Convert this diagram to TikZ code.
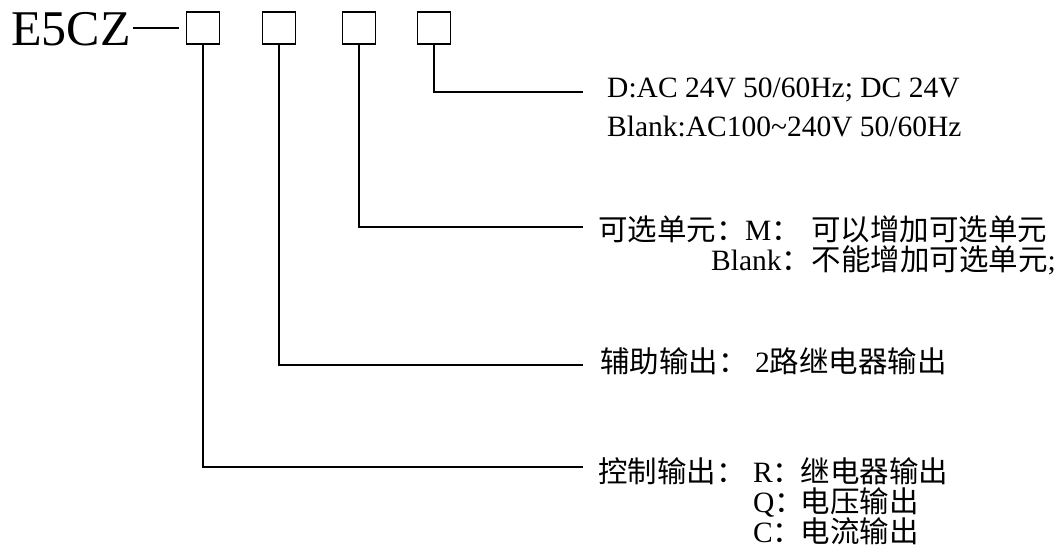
\documentclass[tikz,border=0pt]{standalone}
\usepackage{fontspec}
\setmainfont{Liberation Serif}
\newfontfamily\cjk{Noto Sans CJK SC}
\newfontfamily\cjkhalf{Noto Sans CJK SC}[RawFeature=+halt]
\newcommand{\zh}[1]{{\cjk\fontsize{29.5}{30}\selectfont #1}}
\newlength{\colgap}
\newcommand{\cc}[1]{{\cjkhalf\fontsize{29.5}{30}\selectfont ：}\setlength{\colgap}{#1pt}\addtolength{\colgap}{-14.75pt}\hspace{\colgap}}
\begin{document}
\begin{tikzpicture}[x=1pt,y=-1pt,
  codebox/.style={draw, line width=1.8pt, minimum width=33pt, minimum height=32pt, inner sep=0pt, outer sep=0pt},
  conn/.style={line width=2pt},
  lbl/.style={anchor=base west, inner sep=0pt, font=\fontsize{29.5}{30}\selectfont},
  ttl/.style={anchor=base west, inner sep=0pt, font=\fontsize{50}{50}\selectfont}]
\useasboundingbox (0,0) rectangle (1062,551);
\fill[white] (0,0) rectangle (1062,551);
% title and boxes
\node[ttl] (title) at (11,46) {E5CZ};
\node[codebox] (b1) at (203,28) {};
\node[codebox] (b2) at (279,28) {};
\node[codebox] (b3) at (359,28) {};
\node[codebox] (b4) at (434,28) {};
\draw[conn, shorten <=2pt, shorten >=8pt] (title.east |- b1.west) -- (b1.west);
% end points of connectors
\coordinate (e4) at (583,92);
\coordinate (e3) at (583,227);
\coordinate (e2) at (583,365);
\coordinate (e1) at (583,467);
\draw[conn] (b4.south) |- (e4);
\draw[conn] (b3.south) |- (e3);
\draw[conn] (b2.south) |- (e2);
\draw[conn] (b1.south) |- (e1);
% labels
\node[lbl] (t4a) at (607,97) {D:AC 24V 50/60Hz; DC 24V};
\node[lbl] (t4b) at (607,136) {Blank:AC100\textasciitilde240V 50/60Hz};
\node[lbl] (t3a) at (598,240) {\zh{可选单元}\cc{29}M\cc{40}\zh{可以增加可选单元}};
\node[lbl] (t3b) at (711,270) {Blank\cc{30}\zh{不能增加可选单元};};
\node[lbl] (t2) at (600,372) {\zh{辅助输出}\cc{37}2\zh{路继电器输出}};
\node[lbl] (t1a) at (598,482) {\zh{控制输出}\cc{37}R\cc{28}\zh{继电器输出}};
\node[lbl] (t1b) at (753,512) {Q\cc{26}\zh{电压输出}};
\node[lbl] (t1c) at (753,542) {C\cc{28}\zh{电流输出}};
\end{tikzpicture}
\end{document}
